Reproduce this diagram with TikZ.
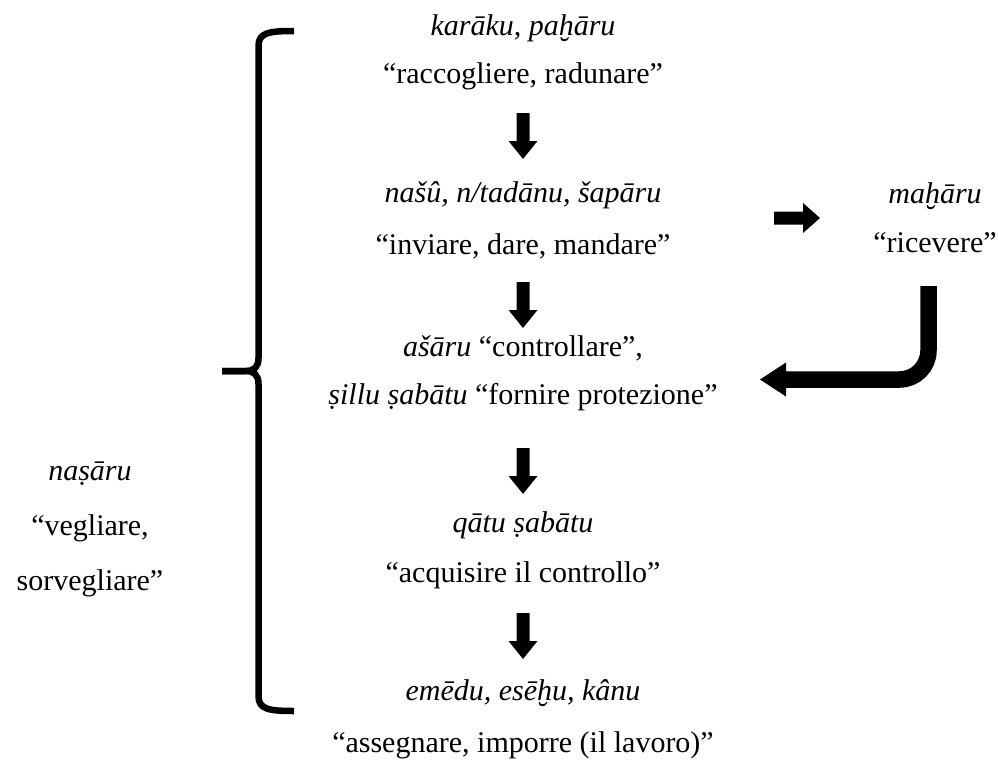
\documentclass[tikz,border=0pt]{standalone}
\usepackage{fontspec}
\setmainfont{Liberation Serif}
\begin{document}
\begin{tikzpicture}[x=1pt,y=-1pt,
  txt/.style={inner sep=0pt, anchor=base, font=\fontsize{30pt}{36pt}\selectfont},
  bracepath/.style={line width=6.5pt, line cap=butt, line join=round},
  pics/downarr/.style={code={\fill (-6.5,0) -- (6.5,0) -- (6.5,28) -- (14.5,28) -- (0,46) -- (-14.5,28) -- (-6.5,28) -- cycle;}},
  pics/rightarr/.style={code={\fill (0,-6.5) -- (29,-6.5) -- (29,-15) -- (46,0) -- (29,15) -- (29,6.5) -- (0,6.5) -- cycle;}}]
\useasboundingbox (0,0) rectangle (998,760);

% centre column
\node[txt] (k1) at (523,36) {\textit{karāku, paḫāru}};
\node[txt] (k2) at (523,83) {“raccogliere, radunare”};
\node[txt] (n1) at (523,202) {\textit{našû, n/tadānu, šapāru}};
\node[txt] (n2) at (523,254) {“inviare, dare, mandare”};
\node[txt] (a1) at (523,356) {\textit{ašāru} “controllare”,};
\node[txt] (a2) at (523,404) {\textit{ṣillu ṣabātu} “fornire protezione”};
\node[txt] (q1) at (523,532) {\textit{qātu ṣabātu}};
\node[txt] (q2) at (523,582) {“acquisire il controllo”};
\node[txt] (e1) at (523,700) {\textit{emēdu, esēḫu, kânu}};
\node[txt] (e2) at (523,752) {“assegnare, imporre (il lavoro)”};

% right column
\node[txt] (m1) at (935,203) {\textit{maḫāru}};
\node[txt] (m2) at (935,252) {“ricevere”};

% left column
\node[txt] (l1) at (90,480) {\textit{naṣāru}};
\node[txt] (l2) at (90,535) {“vegliare,};
\node[txt] (l3) at (90,590) {sorvegliare”};

% down arrows
\coordinate (d1) at (523,113);
\coordinate (d2) at (523,282);
\coordinate (d3) at (523,448);
\coordinate (d4) at (523,613);
\pic at (d1) {downarr};
\pic at (d2) {downarr};
\pic at (d3) {downarr};
\pic at (d4) {downarr};

% right arrow
\coordinate (r1) at (774,218);
\pic at (r1) {rightarr};

% curved return arrow
\coordinate (ctop) at (928.5,286);
\coordinate (cend) at (784,379.5);
\coordinate (ctip) at (760,379.5);
\draw[line width=16.5pt, rounded corners=29pt] (ctop) |- (cend);
\fill (ctip) -- ([shift={(26,-17)}]ctip) -- ([shift={(26,17)}]ctip) -- cycle;

% brace
\coordinate (btop) at (294,31);
\coordinate (bbot) at (294,711);
\coordinate (bcusp) at (222,371);
\draw[bracepath] (btop) .. controls (268,31) and (258.5,33) .. (258.5,46) -- (258.5,358) .. controls (258.5,367) and (254,371) .. (246,371) -- (bcusp);
\draw[bracepath] (bbot) .. controls (268,711) and (258.5,709) .. (258.5,696) -- (258.5,384) .. controls (258.5,375) and (254,371) .. (246,371) -- (bcusp);
\end{tikzpicture}
\end{document}
